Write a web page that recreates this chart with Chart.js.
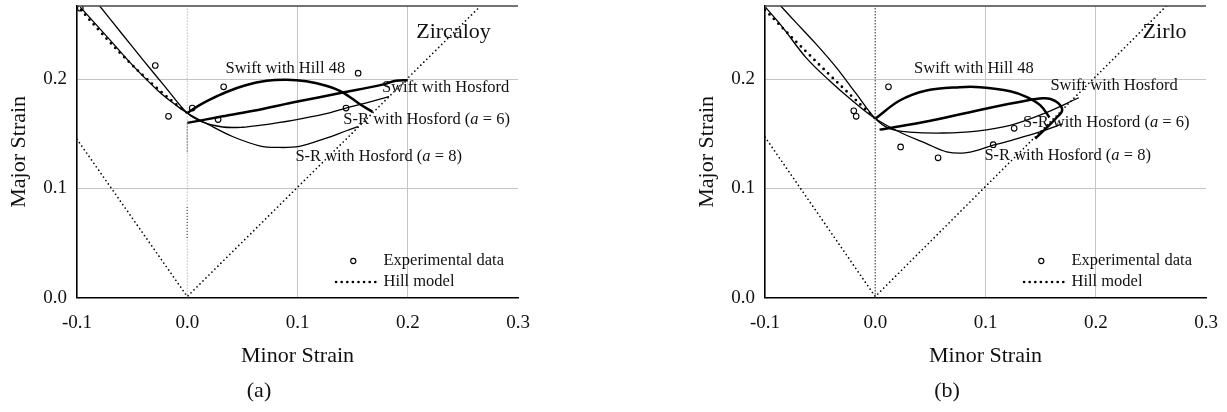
<!DOCTYPE html>
<html>
<head>
<meta charset="utf-8">
<script src="https://cdn.jsdelivr.net/npm/chart.js@4.4.1/dist/chart.umd.min.js"></script>
<style>
  html, body { margin: 0; padding: 0; background: #fff; }
  .panel { position: absolute; top: 0; width: 540px; height: 412px; }
  #panelA { left: 0; }
  #panelB { left: 688px; }
</style>
</head>
<body>
<div class="panel" id="panelA"><canvas id="chartA"></canvas></div>
<div class="panel" id="panelB"><canvas id="chartB"></canvas></div>
<script>
var FONT = "'Liberation Serif', 'DejaVu Serif', serif";

// axes
var xTicks = [-0.1, 0.0, 0.1, 0.2, 0.3];
var xTickLabels = ['-0.1', '0.0', '0.1', '0.2', '0.3'];
var yTicks = [0.0, 0.1, 0.2];
var yTickLabels = ['0.0', '0.1', '0.2'];
var gridAt = [0.1, 0.2];

// (a) Zircaloy
var zExpX = [-0.097, -0.029, -0.017, 0.0045, 0.033, 0.028, 0.155, 0.144];
var zExpY = [0.265, 0.2125, 0.166, 0.1735, 0.193, 0.163, 0.2055, 0.1735];
var zHillX = [-0.1, -0.09, -0.08, -0.07, -0.06, -0.05, -0.04, -0.03, -0.02, -0.01, 0.0];
var zHillY = [0.268, 0.256, 0.2447, 0.2337, 0.2231, 0.213, 0.2033, 0.1941, 0.1853, 0.1769, 0.169];
var zSwiftHillX = [0.0, 0.01, 0.02, 0.035, 0.053, 0.072, 0.09, 0.108, 0.126, 0.141, 0.156, 0.168];
var zSwiftHillY = [0.169, 0.1755, 0.181, 0.188, 0.1945, 0.1985, 0.1995, 0.198, 0.194, 0.188, 0.1775, 0.170];
var zSwiftHosX = [0.0, 0.03, 0.06, 0.1, 0.14, 0.177, 0.189, 0.2];
var zSwiftHosY = [0.160, 0.1655, 0.171, 0.1795, 0.1875, 0.195, 0.1985, 0.199];
var zSR6X = [-0.0794, -0.06, -0.04, -0.02, 0.0, 0.014, 0.032, 0.05, 0.0655, 0.0957, 0.126, 0.144, 0.165, 0.183];
var zSR6Y = [0.267, 0.2425, 0.2175, 0.193, 0.169, 0.1607, 0.1562, 0.156, 0.1577, 0.1623, 0.1684, 0.1735, 0.179, 0.184];
var zSR8X = [-0.097, -0.072, -0.048, -0.026, -0.01, 0.0, 0.02, 0.041, 0.0655, 0.082, 0.1017, 0.126, 0.145, 0.155];
var zSR8Y = [0.266, 0.238, 0.211, 0.189, 0.176, 0.169, 0.158, 0.1475, 0.139, 0.1375, 0.1385, 0.146, 0.153, 0.1565];
var zVeeX = [-0.1, 0.0, 0.265];
var zVeeY = [0.145, 0.001, 0.266];
var zAxisMarkX = [0.0, 0.0, 0.0, 0.0, 0.0];
var zAxisMarkY = [0.1595, 0.132, null, 0.083, 0.054];

// (b) Zirlo
var rExpX = [0.012, -0.0195, -0.0173, 0.023, 0.057, 0.107, 0.126];
var rExpY = [0.193, 0.171, 0.166, 0.138, 0.128, 0.140, 0.155];
var rHillX = [-0.1, -0.09, -0.08, -0.07, -0.06, -0.05, -0.04, -0.03, -0.02, -0.01, 0.0];
var rHillY = [0.2635, 0.2531, 0.2428, 0.2326, 0.2225, 0.2125, 0.2026, 0.1928, 0.1831, 0.1735, 0.164];
var rSwiftHillX = [0.0, 0.0222, 0.0465, 0.0768, 0.095, 0.1224, 0.1376, 0.1498, 0.158];
var rSwiftHillY = [0.1638, 0.1805, 0.1897, 0.1927, 0.1927, 0.189, 0.1836, 0.176, 0.165];
var rSwiftHosX = [0.0039, 0.05, 0.1, 0.1376, 0.152, 0.159, 0.166, 0.1695, 0.1635, 0.156, 0.1452];
var rSwiftHosY = [0.1538, 0.162, 0.173, 0.1805, 0.1825, 0.1818, 0.178, 0.1714, 0.1638, 0.156, 0.1456];
var rSR6X = [-0.0857, -0.072, -0.0538, -0.0356, -0.0173, 0.0, 0.013, 0.031, 0.0616, 0.092, 0.1224, 0.1528, 0.1847];
var rSR6Y = [0.267, 0.252, 0.2323, 0.211, 0.1867, 0.164, 0.1547, 0.1516, 0.1507, 0.1525, 0.1577, 0.1684, 0.183];
var rSR8X = [-0.0994, -0.084, -0.063, -0.0417, -0.0204, 0.0, 0.022, 0.0465, 0.0647, 0.083, 0.107, 0.125, 0.15, 0.17];
var rSR8Y = [0.2657, 0.2475, 0.220, 0.1988, 0.180, 0.164, 0.1516, 0.141, 0.1335, 0.1328, 0.1395, 0.1445, 0.152, 0.159];
var rVeeX = [-0.1, 0.0, 0.264];
var rVeeY = [0.147, 0.001, 0.267];

var Y_MAX = 0.267;

function pts(xs, ys) {
  return xs.map(function (x, i) { return { x: x, y: ys[i] }; });
}

function curve(data, width, dash, tension) {
  return {
    data: data,
    showLine: true,
    borderColor: '#000',
    borderWidth: width,
    borderDash: dash || [],
    borderCapStyle: dash ? 'round' : 'butt',
    pointRadius: 0,
    tension: tension === undefined ? 0.35 : tension,
    fill: false,
    spanGaps: false
  };
}

// text notes, legend and top frame drawn in data coordinates
function notesPlugin(notes, legendPos) {
  return {
    id: 'notes',
    afterDatasetsDraw: function (chart) {
      var ctx = chart.ctx, xs = chart.scales.x, ys = chart.scales.y, a = chart.chartArea;
      ctx.save();
      ctx.strokeStyle = '#444';
      ctx.lineWidth = 1.5;
      ctx.beginPath();
      ctx.moveTo(a.left, a.top);
      ctx.lineTo(a.right, a.top);
      ctx.stroke();

      ctx.fillStyle = '#111';
      ctx.textBaseline = 'middle';
      ctx.textAlign = 'left';
      notes.forEach(function (n) {
        var px = xs.getPixelForValue(n.x), py = ys.getPixelForValue(n.y);
        n.parts.forEach(function (p) {
          ctx.font = (p[1] ? 'italic ' : '') + n.size + 'px ' + FONT;
          ctx.fillText(p[0], px, py);
          px += ctx.measureText(p[0]).width;
        });
      });

      var L = legendPos;
      var cx = xs.getPixelForValue(L.markX), cy1 = ys.getPixelForValue(L.y1), cy2 = ys.getPixelForValue(L.y2);
      var tx = xs.getPixelForValue(L.textX);
      ctx.beginPath();
      ctx.arc(cx, cy1, 2.6, 0, Math.PI * 2);
      ctx.fillStyle = '#fff';
      ctx.fill();
      ctx.strokeStyle = '#000';
      ctx.lineWidth = 1.1;
      ctx.stroke();
      ctx.beginPath();
      ctx.setLineDash([0, 5.6]);
      ctx.lineCap = 'round';
      ctx.lineWidth = 2.7;
      ctx.moveTo(xs.getPixelForValue(L.lineX0), cy2);
      ctx.lineTo(xs.getPixelForValue(L.lineX1), cy2);
      ctx.stroke();
      ctx.setLineDash([]);
      ctx.fillStyle = '#111';
      ctx.font = '16.5px ' + FONT;
      ctx.fillText('Experimental data', tx, cy1);
      ctx.fillText('Hill model', tx, cy2);
      ctx.restore();
    }
  };
}

function makeChart(id, caption, datasets, notes) {
  var legendPos = { markX: 0.1506, textX: 0.178, lineX0: 0.135, lineX1: 0.171, y1: 0.0335, y2: 0.0143 };
  return new Chart(document.getElementById(id), {
    type: 'scatter',
    data: { datasets: datasets },
    plugins: [notesPlugin(notes, legendPos)],
    options: {
      responsive: true,
      maintainAspectRatio: false,
      animation: false,
      layout: { padding: { top: 6, right: 22, left: 0, bottom: 0 } },
      plugins: {
        legend: { display: false },
        tooltip: { enabled: false },
        title: {
          display: true,
          position: 'bottom',
          text: caption,
          color: '#111',
          font: { family: FONT, size: 22, weight: 'normal' },
          padding: { top: 0, bottom: 8 }
        }
      },
      scales: {
        x: {
          type: 'linear',
          min: -0.1,
          max: 0.3,
          afterBuildTicks: function (s) { s.ticks = xTicks.map(function (v) { return { value: v }; }); },
          afterFit: function (s) { s.height = 80; s.paddingLeft = 0; s.paddingRight = 0; },
          ticks: {
            color: '#111',
            padding: 14,
            font: { family: FONT, size: 19 },
            callback: function (v, i) { return xTickLabels[i]; }
          },
          grid: {
            drawTicks: false,
            lineWidth: 1,
            color: function (c) { return c.tick && gridAt.indexOf(c.tick.value) >= 0 ? '#c4c4c4' : 'rgba(0,0,0,0)'; }
          },
          border: { color: '#000', width: 1.6 },
          title: {
            display: true,
            text: 'Minor Strain',
            color: '#111',
            font: { family: FONT, size: 22 },
            padding: { top: 0, bottom: 8 }
          }
        },
        y: {
          type: 'linear',
          min: 0,
          max: Y_MAX,
          afterBuildTicks: function (s) { s.ticks = yTicks.map(function (v) { return { value: v }; }); },
          afterFit: function (s) { s.width = 77; s.paddingTop = 0; s.paddingBottom = 0; },
          ticks: {
            color: '#111',
            padding: 10,
            font: { family: FONT, size: 19 },
            callback: function (v, i) { return yTickLabels[i]; }
          },
          grid: {
            drawTicks: false,
            lineWidth: 1,
            color: function (c) { return c.tick && gridAt.indexOf(c.tick.value) >= 0 ? '#c4c4c4' : 'rgba(0,0,0,0)'; }
          },
          border: { color: '#000', width: 1.6 },
          title: {
            display: true,
            text: 'Major Strain',
            color: '#111',
            font: { family: FONT, size: 22 },
            padding: { top: 6, bottom: 0 }
          }
        }
      }
    }
  });
}

function srParts(a) {
  return [['S-R with Hosford (', false], ['a', true], [' = ' + a + ')', false]];
}

function expSet(data) {
  return {
    data: data,
    showLine: false,
    pointStyle: 'circle',
    pointRadius: 2.8,
    pointBorderWidth: 1.1,
    pointBorderColor: '#000',
    pointBackgroundColor: '#fff'
  };
}

var zeroLineA = curve(pts([0, 0], [0, Y_MAX]), 1, [1, 2], 0);
zeroLineA.borderColor = '#9a9a9a';
zeroLineA.borderCapStyle = 'butt';
var markA = curve(pts(zAxisMarkX, zAxisMarkY), 1.2, [1, 2], 0);
markA.borderColor = '#333';
markA.borderCapStyle = 'butt';

makeChart('chartA', '(a)', [
  zeroLineA,
  markA,
  curve(pts(zVeeX, zVeeY), 1.7, [0, 4.2], 0),
  curve(pts(zHillX, zHillY), 2.8, [0, 6.4]),
  curve(pts(zSR6X, zSR6Y), 1.3),
  curve(pts(zSR8X, zSR8Y), 1.3),
  curve(pts(zSwiftHosX, zSwiftHosY), 2.5),
  curve(pts(zSwiftHillX, zSwiftHillY), 2.5),
  expSet(pts(zExpX, zExpY))
], [
  { x: 0.2077, y: 0.243, size: 22, parts: [['Zircaloy', false]] },
  { x: 0.0347, y: 0.2098, size: 16.5, parts: [['Swift with Hill 48', false]] },
  { x: 0.1766, y: 0.1924, size: 16.5, parts: [['Swift with Hosford', false]] },
  { x: 0.1416, y: 0.163, size: 16.5, parts: srParts(6) },
  { x: 0.0981, y: 0.1288, size: 16.5, parts: srParts(8) }
]);

var zeroLineB = curve(pts([0, 0], [0, Y_MAX]), 1.5, [1.5, 1.5], 0);
zeroLineB.borderColor = '#707070';
zeroLineB.borderCapStyle = 'butt';

makeChart('chartB', '(b)', [
  zeroLineB,
  curve(pts(rVeeX, rVeeY), 1.7, [0, 4.2], 0),
  curve(pts(rHillX, rHillY), 2.8, [0, 6.4]),
  curve(pts(rSR6X, rSR6Y), 1.3),
  curve(pts(rSR8X, rSR8Y), 1.3),
  curve(pts(rSwiftHosX, rSwiftHosY), 2.5),
  curve(pts(rSwiftHillX, rSwiftHillY), 2.5),
  expSet(pts(rExpX, rExpY))
], [
  { x: 0.2425, y: 0.243, size: 22, parts: [['Zirlo', false]] },
  { x: 0.0352, y: 0.2095, size: 16.5, parts: [['Swift with Hill 48', false]] },
  { x: 0.1589, y: 0.1942, size: 16.5, parts: [['Swift with Hosford', false]] },
  { x: 0.134, y: 0.160, size: 16.5, parts: srParts(6) },
  { x: 0.099, y: 0.1303, size: 16.5, parts: srParts(8) }
]);
</script>
</body>
</html>
